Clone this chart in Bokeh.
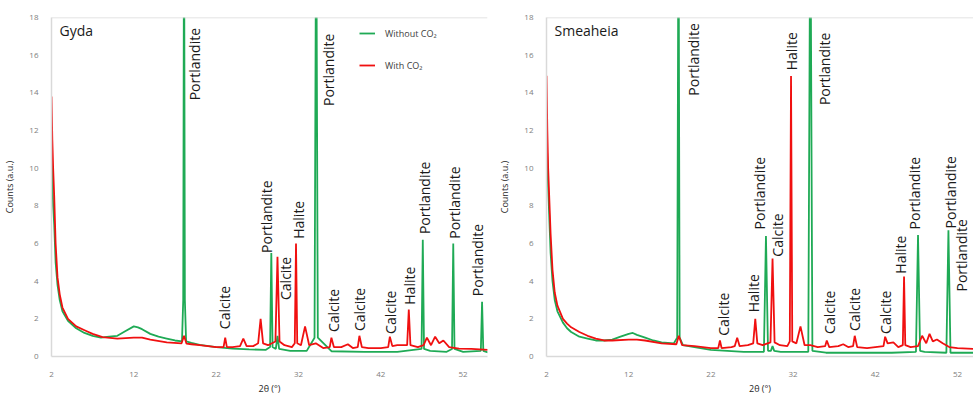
import math
from bokeh.plotting import figure
from bokeh.layouts import row
from bokeh.models import ColumnDataSource, FixedTicker, Legend, LegendItem, Label, Span, Range1d
from bokeh.core.properties import value
from bokeh.embed import file_html
from bokeh.resources import INLINE

# ---------------- data ----------------
# Gyda, without CO2
gyda_wo_x = [2.0, 2.1, 2.2, 2.33, 2.5, 2.73, 3.0, 3.33, 4.0, 4.5, 5.0, 6.0, 7.0, 8.0, 9.0, 10.0, 11.0, 12.0, 12.5, 13.0,
             14.0, 15.0, 16.0, 17.0, 17.85, 18.0, 18.1, 18.2, 18.35, 19.0, 20.0, 22.0, 24.0, 26.0, 28.0, 28.55, 28.7,
             28.85, 29.25, 29.45, 29.65, 31.0, 33.0, 33.95, 34.15, 34.35, 36.0, 40.0, 44.0, 46.95, 47.1, 47.25, 48.0,
             50.0, 50.65, 50.8, 50.95, 52.0, 54.15, 54.3, 54.45, 55.0]
gyda_wo_y = [11.0, 9.5, 8.0, 7.0, 5.0, 3.8, 3.0, 2.4, 1.9, 1.7, 1.5, 1.25, 1.1, 1.0, 1.05, 1.1, 1.35, 1.6, 1.55, 1.45,
             1.2, 1.05, 0.95, 0.85, 0.8, 3.0, 25.0, 3.0, 0.8, 0.72, 0.62, 0.5, 0.42, 0.38, 0.35, 0.5, 5.5,
             0.5, 0.4, 1.1, 0.4, 0.3, 0.3, 1.0, 25.0, 1.0, 0.28, 0.25, 0.25, 0.4, 6.2, 0.4, 0.3,
             0.25, 0.4, 6.0, 0.4, 0.25, 0.3, 2.9, 0.3, 0.22]

# Gyda, with CO2
gyda_w_x = [2.0, 2.1, 2.2, 2.33, 2.5, 2.73, 3.0, 3.33, 4.0, 4.5, 5.0, 6.15, 7.0, 8.2, 10.0, 12.0, 13.0, 14.0, 16.0,
            17.8, 18.1, 18.4, 19.0, 20.0, 22.0, 22.9, 23.1, 23.3, 24.0, 24.9, 25.3, 25.7, 26.5, 27.1, 27.4, 27.7,
            28.3, 29.2, 29.45, 29.7, 30.3, 31.2, 31.55, 31.7, 31.85, 32.3, 32.8, 33.3, 34.1, 35.0, 35.8, 36.0, 36.3,
            37.2, 38.0, 38.6, 39.2, 39.4, 39.7, 40.5, 42.0, 42.9, 43.1, 43.4, 44.0, 45.2, 45.4, 45.6, 46.5, 47.2,
            47.6, 48.1, 48.6, 49.1, 49.6, 50.3, 51.5, 53.0, 55.0]
gyda_w_y = [13.8, 11.5, 10.0, 8.5, 6.0, 4.2, 3.3, 2.6, 2.0, 1.8, 1.6, 1.37, 1.2, 1.03, 0.95, 1.0, 1.0, 0.9, 0.75,
            0.7, 1.1, 0.68, 0.65, 0.6, 0.5, 0.5, 1.0, 0.5, 0.5, 0.55, 0.95, 0.55, 0.55, 0.7, 2.0, 0.7,
            0.6, 0.8, 5.3, 0.8, 0.6, 0.5, 0.7, 6.0, 0.7, 0.6, 1.6, 0.6, 0.7, 0.45, 0.5, 1.0, 0.5,
            0.5, 0.65, 0.45, 0.5, 1.1, 0.5, 0.45, 0.45, 0.5, 1.05, 0.55, 0.6, 0.6, 2.5, 0.6, 0.5, 0.6,
            1.0, 0.6, 1.05, 0.7, 0.85, 0.5, 0.42, 0.4, 0.35]

# Smeaheia, without CO2
smea_wo_x = [2.0, 2.1, 2.2, 2.33, 2.5, 2.73, 3.0, 3.33, 4.0, 4.5, 5.0, 6.0, 7.0, 8.0, 9.0, 10.0, 11.0, 12.0, 12.5,
             13.0, 14.0, 15.0, 16.0, 17.5, 17.9, 18.06, 18.2, 18.6, 20.0, 22.0, 24.0, 26.0, 28.45, 28.7, 28.95, 29.3,
             29.5, 29.7, 30.5, 33.85, 34.1, 34.35, 36.0, 40.0, 44.0, 46.95, 47.2, 47.45, 48.0, 50.65, 50.9, 51.15,
             54.0]
smea_wo_y = [12.0, 10.5, 9.0, 7.5, 5.5, 4.0, 3.0, 2.4, 1.8, 1.5, 1.3, 1.05, 0.95, 0.85, 0.85, 0.9, 1.05, 1.2, 1.25,
             1.15, 1.0, 0.85, 0.75, 0.7, 1.0, 25.0, 1.0, 0.6, 0.5, 0.35, 0.3, 0.25, 0.25, 6.4, 0.3, 0.3,
             0.55, 0.3, 0.25, 0.25, 25.0, 0.3, 0.2, 0.2, 0.2, 0.25, 6.45, 0.3, 0.25, 0.2, 6.7, 0.2,
             0.2]

# Smeaheia, with CO2
smea_w_x = [2.0, 2.1, 2.2, 2.33, 2.5, 2.73, 3.0, 3.33, 4.0, 4.5, 5.0, 6.0, 7.0, 8.0, 9.0, 10.0, 12.0, 13.0, 14.0,
            16.0, 17.8, 18.1, 18.5, 20.0, 22.0, 22.9, 23.1, 23.3, 24.5, 24.9, 25.2, 25.5, 26.5, 27.15, 27.4, 27.65,
            28.3, 29.25, 29.5, 29.75, 30.4, 31.3, 31.6, 31.75, 31.9, 32.4, 32.9, 33.4, 34.1, 35.0, 35.9, 36.1, 36.4,
            37.5, 38.1, 38.7, 39.3, 39.5, 39.8, 41.0, 42.0, 43.0, 43.2, 43.5, 44.2, 44.8, 45.35, 45.5, 45.65, 46.3,
            47.2, 47.7, 48.2, 48.6, 49.0, 49.5, 50.2, 51.0, 52.0, 54.0]
smea_w_y = [14.9, 12.0, 10.0, 8.5, 6.5, 4.6, 3.4, 2.7, 2.0, 1.75, 1.55, 1.3, 1.1, 0.95, 0.85, 0.85, 0.9, 0.9, 0.85,
            0.7, 0.65, 1.1, 0.6, 0.55, 0.45, 0.45, 0.85, 0.45, 0.5, 0.55, 1.0, 0.55, 0.6, 0.7, 2.0, 0.7,
            0.6, 0.75, 5.2, 0.75, 0.6, 0.55, 0.8, 14.9, 0.8, 0.7, 1.6, 0.6, 0.6, 0.5, 0.55, 0.85, 0.5,
            0.55, 0.65, 0.5, 0.55, 1.1, 0.5, 0.45, 0.5, 0.55, 1.05, 0.7, 0.75, 0.5, 0.6, 4.25, 0.6, 0.5,
            0.55, 1.1, 0.7, 1.2, 0.8, 0.9, 0.7, 0.5, 0.45, 0.4]

# phase annotations (label, 2theta, counts at bottom of the text)
gyda_lab = ["Portlandite", "Calcite", "Portlandite", "Calcite", "Halite", "Portlandite", "Calcite", "Calcite",
            "Calcite", "Halite", "Portlandite", "Portlandite", "Portlandite"]
gyda_lab_x = [19.4, 23.0, 28.1, 30.45, 31.95, 35.6, 36.2, 39.4, 43.15, 45.5, 47.3, 51.0, 53.7]
gyda_lab_y = [13.6, 1.45, 5.5, 3.0, 6.25, 13.3, 1.3, 1.35, 1.2, 2.75, 6.5, 6.25, 3.2]

smea_lab = ["Portlandite", "Calcite", "Halite", "Portlandite", "Calcite", "Halite", "Portlandite", "Calcite",
            "Calcite", "Calcite", "Halite", "Portlandite", "Portlandite", "Portlandite"]
smea_lab_x = [19.9, 23.55, 27.2, 27.95, 30.05, 31.75, 35.85, 36.45, 39.5, 43.3, 45.1, 46.8, 51.15, 52.45]
smea_lab_y = [13.85, 1.1, 2.35, 6.75, 5.3, 15.2, 13.35, 1.2, 1.35, 1.2, 4.4, 6.75, 6.8, 3.45]

x_ticks = [2, 12, 22, 32, 42, 52]
y_ticks = [0, 2, 4, 6, 8, 10, 12, 14, 16, 18]
series_names = ["Without CO\u2082", "With CO\u2082"]
panel_names = ["Gyda", "Smeaheia"]

GREEN = "#1faa55"
RED = "#f01010"
FONT = "Open Sans"
AXIS_GREY = "#d9d9d9"


def make_panel(name, wo_x, wo_y, w_x, w_y, lab, lab_x, lab_y, width, border_left, border_right, x_end,
               legend=False):
    p = figure(width=width, height=397, output_backend="svg", toolbar_location=None,
               x_range=Range1d(2, x_end), y_range=Range1d(0, 18),
               min_border_left=border_left, min_border_right=border_right,
               min_border_top=17, min_border_bottom=34)
    p.background_fill_color = "white"
    p.border_fill_color = "white"
    p.outline_line_color = None
    p.grid.visible = False

    r1 = p.line(wo_x, wo_y, line_color=GREEN, line_width=1.8)
    r2 = p.line(w_x, w_y, line_color=RED, line_width=1.8)

    p.add_layout(Span(location=18, dimension="width", line_color=AXIS_GREY, line_width=1.5))

    src = ColumnDataSource(dict(x=lab_x, y=lab_y, t=lab))
    p.text(x="x", y="y", text="t", source=src, angle=math.pi / 2, text_align="left",
           text_baseline="middle", text_font=value(FONT), text_font_size="14px", text_color="#1a1a1a")

    p.add_layout(Label(x=8, y=336, x_units="screen", y_units="screen", text=name, text_font=FONT,
                       text_font_size="14px", text_color="#1a1a1a", text_baseline="top"))

    for ax in (p.xaxis[0], p.yaxis[0]):
        ax.axis_line_color = AXIS_GREY
        ax.axis_line_width = 1.5
        ax.major_tick_line_color = None
        ax.minor_tick_line_color = None
        ax.major_label_text_color = "#808080"
        ax.major_label_text_font = FONT
        ax.major_label_text_font_size = "8px"
        ax.axis_label_text_font = FONT
        ax.axis_label_text_font_size = "9px"
        ax.axis_label_text_font_style = "normal"
        ax.axis_label_text_color = "#262626"
    p.xaxis[0].ticker = FixedTicker(ticks=x_ticks)
    p.yaxis[0].ticker = FixedTicker(ticks=y_ticks)
    p.xaxis[0].axis_label = "2\u03b8 (\u00b0)"
    p.yaxis[0].axis_label = "Counts (a.u.)"
    p.xaxis[0].major_label_standoff = 9
    p.xaxis[0].axis_label_standoff = 2
    p.yaxis[0].major_label_standoff = 7
    p.yaxis[0].axis_label_standoff = 10

    if legend:
        lg = Legend(items=[LegendItem(label=series_names[0], renderers=[r1]),
                           LegendItem(label=series_names[1], renderers=[r2])],
                    location=(308, 281), orientation="vertical",
                    glyph_width=16, glyph_height=20, label_height=20, spacing=12,
                    label_standoff=10, padding=0, margin=0,
                    border_line_color=None, background_fill_alpha=0,
                    label_text_font=FONT, label_text_font_size="9px", label_text_color="#404040")
        p.add_layout(lg)
    return p


left = make_panel(panel_names[0], gyda_wo_x, gyda_wo_y, gyda_w_x, gyda_w_y, gyda_lab, gyda_lab_x, gyda_lab_y,
                  495, 49, 8, 54.96, legend=True)
right = make_panel(panel_names[1], smea_wo_x, smea_wo_y, smea_w_x, smea_w_y, smea_lab, smea_lab_x, smea_lab_y,
                   478, 51, 0, 53.95)

layout = row(left, right)
open("out.html", "w").write(file_html(layout, INLINE))
